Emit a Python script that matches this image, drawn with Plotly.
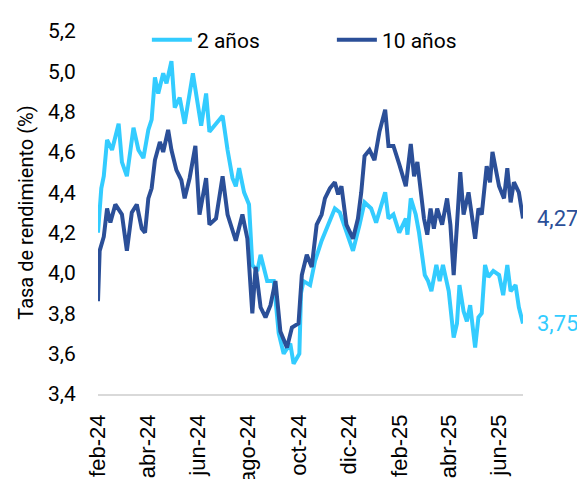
import plotly.graph_objects as go

# Rendimiento de bonos: 2 años y 10 años (lecturas aproximadas del gráfico)
fechas_2a = [
    "2024-02-01", "2024-02-05", "2024-02-08", "2024-02-12", "2024-02-18", "2024-02-26",
    "2024-03-01", "2024-03-07", "2024-03-15", "2024-03-21", "2024-03-27", "2024-04-02",
    "2024-04-06", "2024-04-10", "2024-04-14", "2024-04-20", "2024-04-24", "2024-04-30",
    "2024-05-04", "2024-05-10", "2024-05-16", "2024-05-20", "2024-05-26", "2024-06-05",
    "2024-06-11", "2024-06-15", "2024-06-23", "2024-07-01", "2024-07-07", "2024-07-13",
    "2024-07-17", "2024-07-21", "2024-07-27", "2024-08-02", "2024-08-06", "2024-08-12",
    "2024-08-16", "2024-08-24", "2024-09-01", "2024-09-07", "2024-09-13", "2024-09-21",
    "2024-09-25", "2024-10-02", "2024-10-04", "2024-10-07", "2024-10-15", "2024-10-21",
    "2024-10-29", "2024-11-06", "2024-11-14", "2024-11-20", "2024-11-28", "2024-12-06",
    "2024-12-14", "2024-12-20", "2024-12-28", "2025-01-03", "2025-01-14", "2025-01-18",
    "2025-01-24", "2025-01-31", "2025-02-08", "2025-02-10", "2025-02-14", "2025-02-20",
    "2025-02-24", "2025-02-28", "2025-03-03", "2025-03-07", "2025-03-11", "2025-03-17",
    "2025-03-21", "2025-03-25", "2025-04-01", "2025-04-07", "2025-04-11", "2025-04-14",
    "2025-04-19", "2025-04-23", "2025-04-27", "2025-05-03", "2025-05-07", "2025-05-11",
    "2025-05-15", "2025-05-19", "2025-05-25", "2025-06-01", "2025-06-06", "2025-06-11",
    "2025-06-15", "2025-06-21", "2025-06-25", "2025-06-30",
]
tasa_2a = [
    4.20, 4.42, 4.48, 4.66, 4.61, 4.74,
    4.55, 4.48, 4.72, 4.61, 4.57, 4.71,
    4.76, 4.97, 4.89, 4.99, 4.94, 5.05,
    4.82, 4.87, 4.74, 4.84, 4.99, 4.73,
    4.89, 4.70, 4.74, 4.78, 4.61, 4.47,
    4.43, 4.52, 4.40, 4.34, 4.04, 4.01,
    4.09, 3.96, 3.96, 3.70, 3.60, 3.65,
    3.55, 3.60, 3.90, 3.96, 3.94, 4.06,
    4.16, 4.24, 4.32, 4.30, 4.20, 4.11,
    4.24, 4.35, 4.32, 4.25, 4.40, 4.27,
    4.29, 4.20, 4.27, 4.19, 4.37, 4.29,
    4.20, 4.07, 3.99, 3.96, 3.91, 4.04,
    3.96, 4.04, 3.91, 3.68, 3.75, 3.94,
    3.81, 3.76, 3.84, 3.63, 3.78, 3.80,
    4.04, 3.98, 4.01, 3.99, 3.89, 4.04,
    3.91, 3.94, 3.83, 3.75,
]

fechas_10a = [
    "2024-02-01", "2024-02-03", "2024-02-08", "2024-02-12", "2024-02-16", "2024-02-22",
    "2024-03-01", "2024-03-07", "2024-03-13", "2024-03-19", "2024-03-25", "2024-03-29",
    "2024-04-02", "2024-04-06", "2024-04-10", "2024-04-16", "2024-04-20", "2024-04-26",
    "2024-04-30", "2024-05-06", "2024-05-12", "2024-05-16", "2024-05-22", "2024-05-29",
    "2024-06-03", "2024-06-11", "2024-06-15", "2024-06-23", "2024-07-01", "2024-07-07",
    "2024-07-17", "2024-07-25", "2024-07-31", "2024-08-06", "2024-08-10", "2024-08-16",
    "2024-08-22", "2024-08-28", "2024-09-03", "2024-09-09", "2024-09-17", "2024-09-23",
    "2024-10-01", "2024-10-05", "2024-10-11", "2024-10-17", "2024-10-23", "2024-10-29",
    "2024-11-02", "2024-11-08", "2024-11-14", "2024-11-18", "2024-11-22", "2024-11-28",
    "2024-12-06", "2024-12-12", "2024-12-16", "2024-12-20", "2024-12-26", "2025-01-01",
    "2025-01-07", "2025-01-14", "2025-01-18", "2025-01-24", "2025-01-31", "2025-02-08",
    "2025-02-14", "2025-02-18", "2025-02-22", "2025-02-26", "2025-03-02", "2025-03-06",
    "2025-03-10", "2025-03-14", "2025-03-18", "2025-03-24", "2025-03-30", "2025-04-03",
    "2025-04-07", "2025-04-11", "2025-04-15", "2025-04-19", "2025-04-25", "2025-05-03",
    "2025-05-07", "2025-05-11", "2025-05-17", "2025-05-21", "2025-05-24", "2025-06-01",
    "2025-06-07", "2025-06-11", "2025-06-15", "2025-06-19", "2025-06-25", "2025-06-30",
]
tasa_10a = [
    3.86, 4.11, 4.18, 4.32, 4.25, 4.34,
    4.29, 4.11, 4.30, 4.34, 4.22, 4.20,
    4.37, 4.42, 4.56, 4.65, 4.60, 4.71,
    4.61, 4.51, 4.46, 4.37, 4.47, 4.63,
    4.29, 4.47, 4.24, 4.27, 4.48, 4.29,
    4.16, 4.29, 4.17, 3.80, 4.03, 3.83,
    3.78, 3.84, 3.96, 3.71, 3.63, 3.73,
    3.75, 3.99, 4.09, 4.03, 4.24, 4.29,
    4.37, 4.42, 4.45, 4.39, 4.43, 4.24,
    4.17, 4.27, 4.40, 4.58, 4.61, 4.56,
    4.70, 4.81, 4.63, 4.63, 4.54, 4.43,
    4.64, 4.48, 4.55, 4.40, 4.27, 4.19,
    4.32, 4.22, 4.32, 4.24, 4.37, 4.24,
    3.99, 4.24, 4.50, 4.29, 4.40, 4.17,
    4.32, 4.29, 4.53, 4.45, 4.60, 4.43,
    4.37, 4.52, 4.35, 4.45, 4.40, 4.27,
]

tick_fechas = ["2024-02-01", "2024-04-01", "2024-06-01", "2024-08-01", "2024-10-01",
               "2024-12-01", "2025-02-01", "2025-04-01", "2025-06-01"]
tick_textos = ["feb-24", "abr-24", "jun-24", "ago-24", "oct-24",
               "dic-24", "feb-25", "abr-25", "jun-25"]

color_2a = "#33CCFF"
color_10a = "#2B4F98"

fig = go.Figure()
fig.add_trace(go.Scatter(x=fechas_2a, y=tasa_2a, mode="lines", name="2 años",
                         line=dict(color=color_2a, width=4)))
fig.add_trace(go.Scatter(x=fechas_10a, y=tasa_10a, mode="lines", name="10 años",
                         line=dict(color=color_10a, width=4)))

# Etiquetas del último valor
for fechas, tasas, color in [(fechas_10a, tasa_10a, color_10a), (fechas_2a, tasa_2a, color_2a)]:
    fig.add_annotation(x=fechas[-1], y=tasas[-1], text=f"{tasas[-1]:.2f}".replace(".", ","),
                       showarrow=False, xanchor="left", xshift=12,
                       font=dict(family="Roboto", size=22, color=color))

# la página añade 8 px de margen al cuerpo, así que la figura es 8 px más pequeña
fig.update_layout(
    width=577, height=471,
    margin=dict(l=90, r=62, t=19, b=85),
    paper_bgcolor="white", plot_bgcolor="white",
    separators=",.",
    font=dict(family="Roboto", size=20, color="#000000"),
    showlegend=True,
    legend=dict(orientation="h", x=0.115, y=0.975, xanchor="left", yanchor="middle",
                font=dict(family="Roboto", size=21), bgcolor="rgba(0,0,0,0)",
                itemwidth=40, entrywidth=130),
)
fig.update_xaxes(
    range=["2024-02-01", "2025-06-30"], automargin=False,
    tickvals=tick_fechas, ticktext=tick_textos, tickangle=-90,
    showgrid=False, zeroline=False,
    showline=True, linecolor="#D9D9D9", linewidth=1.5,
    ticks="outside", ticklen=10, tickcolor="white",
    tickfont=dict(family="Liberation Sans", size=22, color="#000000"),
)
fig.update_yaxes(
    range=[3.4, 5.2], dtick=0.2, tickformat=".1f", automargin=False,
    showgrid=False, zeroline=False, showline=False,
    ticks="outside", ticklen=17, tickcolor="white",
    tickfont=dict(family="Roboto", size=21, color="#000000"),
    title=dict(text="Tasa de rendimiento (%)", standoff=9,
               font=dict(family="Roboto", size=20, color="#000000")),
)

fig.write_html("out.html")
